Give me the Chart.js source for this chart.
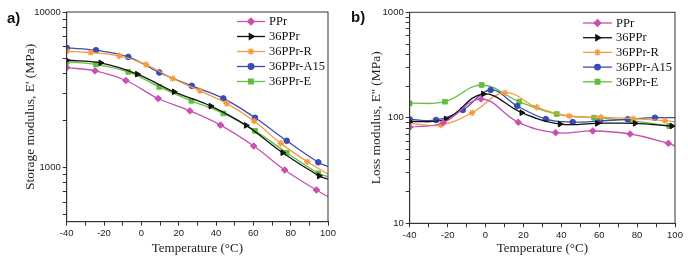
<!DOCTYPE html>
<html lang="en">
<head>
  <meta charset="UTF-8" />
  <title>DMA - Storage and Loss Modulus</title>
  <script src="https://cdn.jsdelivr.net/npm/chart.js"></script>
  <style>
    body {
      margin: 0;
      background: #fff;
    }
    .wrap {
      position: relative;
      width: 688px;
      height: 262px;
    }
    .panel {
      position: absolute;
      top: 0;
    }
    .tag {
      position: absolute;
      font: bold 15px 'Liberation Sans', Arial, sans-serif;
      color: #111;
    }
  </style>
</head>
<body>
  <div class="wrap">
    <canvas id="storageChart" class="panel" style="left:0" width="344" height="262"></canvas>
    <canvas id="lossChart" class="panel" style="left:344px" width="344" height="262"></canvas>
    <div class="tag" style="left:7px; top:9px">a)</div>
    <div class="tag" style="left:351px; top:8px">b)</div>
  </div>

  <script>
    // Series
    const seriesNames = ['PPr', '36PPr', '36PPr-R', '36PPr-A15', '36PPr-E'];
    const seriesColors = ['#c850b0', '#111111', '#f59a40', '#3a4cb4', '#62bf3e'];
    const seriesMarkers = ['rectRot', 'triangle', 'star', 'circle', 'rect'];

    // a) storage modulus E' (MPa) vs temperature (°C)
    const tStorPPr = [-40, -24.8, -8.3, 9.0, 26.0, 42.4, 60.2, 76.8, 93.8, 100];
    const storPPr  = [4395, 4188, 3630, 2782, 2318, 1877, 1377, 966, 719, 652];
    const tStor36  = [-40, -21.8, -2.2, 17.5, 37.2, 56.1, 75.7, 95.3, 100];
    const stor36   = [4900, 4710, 3990, 3070, 2487, 1870, 1248, 885, 843];
    const tStorR   = [-40, -27.1, -11.8, 2.5, 16.8, 31.4, 45.7, 60.4, 74.7, 88.9, 100];
    const storR    = [5597, 5495, 5224, 4600, 3740, 3118, 2588, 1993, 1433, 1093, 911];
    const tStorA15 = [-40, -24.3, -7.0, 9.6, 27.0, 43.9, 60.9, 77.9, 94.8, 100];
    const storA15  = [5880, 5683, 5147, 4088, 3357, 2786, 2092, 1489, 1083, 1015];
    const tStorE   = [-40, -24.3, -7.0, 9.6, 26.8, 43.9, 60.9, 77.9, 94.8, 100];
    const storE    = [4780, 4600, 4125, 3304, 2689, 2233, 1726, 1248, 920, 875];

    // b) loss modulus E'' (MPa) vs temperature (°C)
    const tLossPPr = [-40, -22.3, -2.4, 17.3, 37.0, 56.6, 76.3, 96.5, 100];
    const lossPPr  = [81.3, 89.8, 150.7, 90.6, 72.3, 75.0, 70.2, 57.3, 54.0];
    const tLoss36  = [-40, -20.8, -1.2, 19.1, 39.3, 59.0, 78.9, 98.3, 100];
    const loss36   = [91.8, 97.4, 168, 111.8, 87.3, 88.6, 88.6, 83.6, 83.6];
    const tLossR   = [-40, -23.6, -7.0, 10.3, 27.0, 44.2, 60.8, 78.0, 94.7, 100];
    const lossR    = [88.6, 85.4, 111.8, 173, 125.8, 104, 101.2, 98.1, 93.9, 91.8];
    const tLossA15 = [-40, -26.1, -12.0, 2.7, 16.8, 31.8, 46.0, 60.4, 75.0, 89.4, 100];
    const lossA15  = [96.8, 95.3, 118.6, 183.5, 129.4, 97.4, 91.2, 93.3, 96.8, 100.2, 100.2];
    const tLossE   = [-40, -21.4, -2.0, 17.8, 37.6, 57.3, 77.2, 97.0, 100];
    const lossE    = [137.2, 142.1, 204.6, 142.1, 108.6, 100.2, 93.9, 83.6, 83.6];

    // Axis ticks
    const tempTicks = [-40, -30, -20, -10, 0, 10, 20, 30, 40, 50, 60, 70, 80, 90, 100];
    const tempLabels = [-40, -20, 0, 20, 40, 60, 80, 100];
    const storTicks = [500, 600, 700, 800, 900, 1000, 2000, 3000, 4000, 5000, 6000, 7000, 8000, 9000, 10000];
    const storLabels = [1000, 10000];
    const lossTicks = [10, 20, 30, 40, 50, 60, 70, 80, 90, 100, 200, 300, 400, 500, 600, 700, 800, 900, 1000];
    const lossLabels = [10, 100, 1000];

    const serif = "'Liberation Serif', 'Times New Roman', serif";
    const sans = "'Liberation Sans', Arial, sans-serif";
    const axisColor = '#333';

    function markerRadius(style) {
      return style === 'circle' ? 2.8 : 3.3;
    }

    function toPoints(ts, vs) {
      return ts.map((t, i) => ({ x: t, y: vs[i] }));
    }

    function makeDatasets(pairs) {
      return pairs.map(([ts, vs], i) => ({
        label: seriesNames[i],
        data: toPoints(ts, vs),
        borderColor: seriesColors[i],
        backgroundColor: seriesColors[i],
        borderWidth: 1.3,
        tension: 0.4,
        pointStyle: seriesMarkers[i],
        pointRotation: seriesMarkers[i] === 'triangle' ? 90 : 0,
        pointRadius: ctx => (ctx.raw && ctx.raw.x >= 100 ? 0 : markerRadius(seriesMarkers[i])),
        pointBorderWidth: seriesMarkers[i] === 'star' ? 1.3 : 1,
        pointHoverRadius: 0
      }));
    }

    // frame round the plot + legend inside the top-right corner
    const framePlugin = {
      id: 'frame',
      afterDraw(chart, args, opts) {
        const { ctx, chartArea: a } = chart;
        ctx.save();
        ctx.strokeStyle = axisColor;
        ctx.lineWidth = 1;
        ctx.strokeRect(a.left, a.top, a.right - a.left, a.bottom - a.top);

        ctx.font = '12.5px ' + serif;
        ctx.textBaseline = 'middle';
        seriesNames.forEach((name, i) => {
          const y = opts.y0 + i * opts.step;
          ctx.strokeStyle = seriesColors[i];
          ctx.fillStyle = seriesColors[i];
          ctx.lineWidth = 1.3;
          ctx.beginPath();
          ctx.moveTo(opts.x0, y);
          ctx.lineTo(opts.x1, y);
          ctx.stroke();
          Chart.helpers.drawPoint(ctx, {
            pointStyle: seriesMarkers[i],
            radius: markerRadius(seriesMarkers[i]),
            rotation: seriesMarkers[i] === 'triangle' ? 90 : 0,
            borderWidth: seriesMarkers[i] === 'star' ? 1.3 : 1
          }, (opts.x0 + opts.x1) / 2, y);
          ctx.fillStyle = '#111';
          ctx.fillText(name, opts.x1 + 4, y + 0.5);
        });
        ctx.restore();
      }
    };

    function makeChart(id, datasets, cfg) {
      return new Chart(document.getElementById(id), {
        type: 'line',
        data: { datasets },
        options: {
          responsive: false,
          animation: false,
          layout: { padding: { left: 0, right: cfg.padRight, top: cfg.padTop, bottom: 0 } },
          plugins: {
            legend: { display: false },
            tooltip: { enabled: false },
            frame: cfg.legend
          },
          scales: {
            x: {
              type: 'linear',
              min: -40,
              max: 100,
              afterBuildTicks: s => { s.ticks = tempTicks.map(v => ({ value: v })); },
              afterFit: s => { s.height = cfg.xHeight; },
              grid: { drawOnChartArea: false, tickLength: 4, color: axisColor },
              border: { color: axisColor },
              ticks: {
                autoSkip: false,
                maxRotation: 0,
                padding: 2,
                color: '#222',
                font: { family: sans, size: 9.5 },
                callback: v => (tempLabels.includes(v) ? String(v) : '')
              },
              title: {
                display: true,
                text: 'Temperature (°C)',
                color: '#222',
                font: { family: serif, size: 13 },
                padding: { top: 0, bottom: 6 }
              }
            },
            y: {
              type: 'logarithmic',
              min: cfg.yMin,
              max: cfg.yMax,
              afterBuildTicks: s => { s.ticks = cfg.yTicks.map(v => ({ value: v })); },
              afterFit: s => { s.width = cfg.yWidth; },
              grid: { drawOnChartArea: false, tickLength: 4, color: axisColor },
              border: { color: axisColor },
              ticks: {
                autoSkip: false,
                padding: 2,
                color: '#222',
                font: { family: sans, size: 9.5 },
                callback: v => (cfg.yLabels.includes(v) ? String(v) : '')
              },
              title: {
                display: true,
                text: cfg.yTitle,
                color: '#222',
                font: { family: serif, size: 13.5 },
                padding: { top: cfg.yTitlePad, bottom: 0 }
              }
            }
          }
        },
        plugins: [framePlugin]
      });
    }

    makeChart('storageChart', makeDatasets([
      [tStorPPr, storPPr], [tStor36, stor36], [tStorR, storR], [tStorA15, storA15], [tStorE, storE]
    ]), {
      padRight: 16, padTop: 12, xHeight: 40.3, yWidth: 66.7,
      yMin: 450, yMax: 10000, yTicks: storTicks, yLabels: storLabels,
      yTitle: "Storage modulus, E' (MPa)", yTitlePad: 22,
      legend: { x0: 237, x1: 265, y0: 21.5, step: 15 }
    });

    makeChart('lossChart', makeDatasets([
      [tLossPPr, lossPPr], [tLoss36, loss36], [tLossR, lossR], [tLossA15, lossA15], [tLossE, lossE]
    ]), {
      padRight: 13, padTop: 12.3, xHeight: 38.7, yWidth: 65.7,
      yMin: 10, yMax: 1000, yTicks: lossTicks, yLabels: lossLabels,
      yTitle: "Loss modulus, E'' (MPa)", yTitlePad: 24,
      legend: { x0: 239, x1: 268, y0: 23, step: 14.7 }
    });
  </script>
</body>
</html>
